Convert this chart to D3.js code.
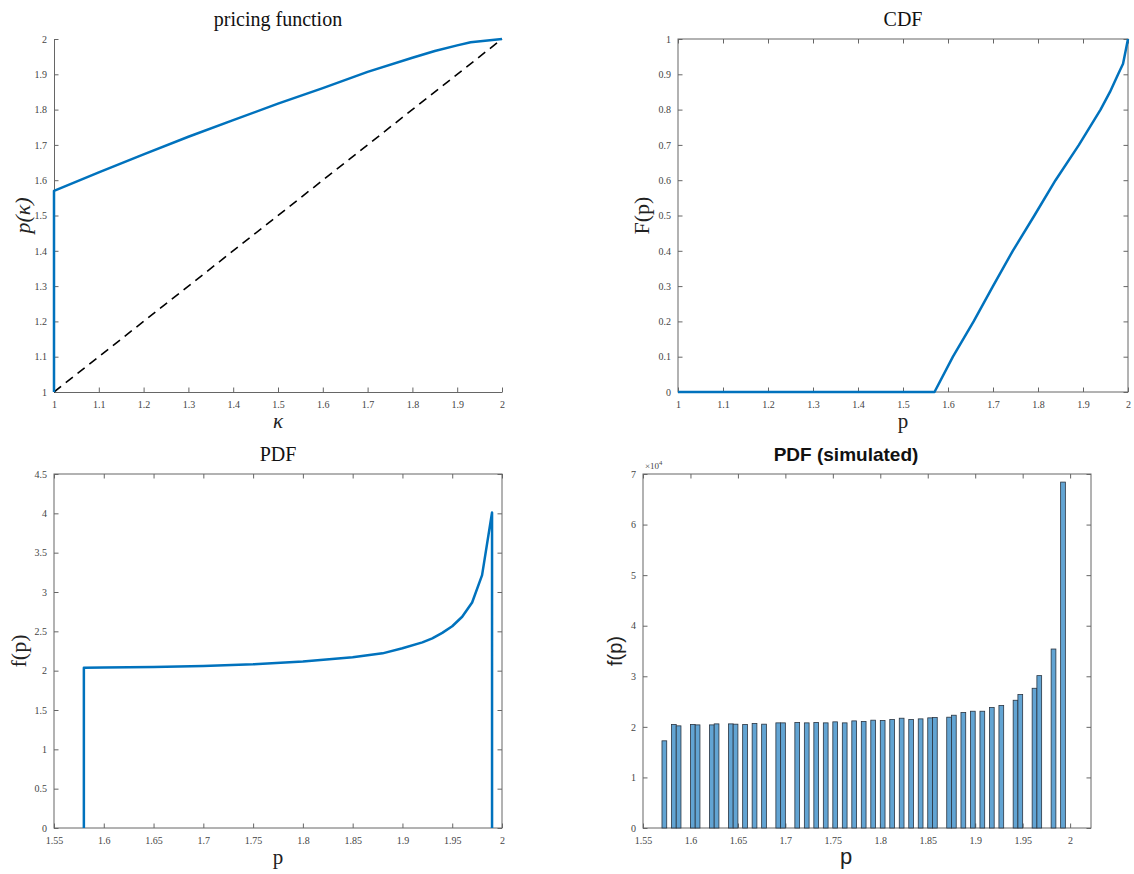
<!DOCTYPE html>
<html>
<head>
<meta charset="utf-8">
<script src="https://cdn.jsdelivr.net/npm/d3@7"></script>
<style>
  html, body { margin: 0; padding: 0; background: #fff; }
  svg { display: block; }
  .tick text { font-family: "Liberation Serif", "DejaVu Serif", serif; font-size: 10px; fill: #444; }
  .tick line { stroke: #666; }
  .domain { stroke: #666; }
</style>
</head>
<body>
<script>
// ---------- data ----------
// Panel 1: pricing function p(kappa)
const pricingKappa = [1, 1, 1.1, 1.2, 1.3, 1.4, 1.5, 1.6, 1.7, 1.8, 1.85, 1.9, 1.93, 2];
const pricingP     = [1, 1.57, 1.622, 1.673, 1.723, 1.770, 1.817, 1.861, 1.907, 1.947, 1.966, 1.982, 1.991, 2];
const diagonalK = [1, 2];
const diagonalP = [1, 2];

// Panel 2: CDF
const cdfP = [1, 1.57, 1.611, 1.657, 1.700, 1.744, 1.792, 1.839, 1.891, 1.939, 1.960, 1.978, 1.989, 2.0];
const cdfF = [0, 0, 0.1, 0.2, 0.3, 0.4, 0.5, 0.6, 0.7, 0.8, 0.85, 0.9, 0.93, 1.0];

// Panel 3: PDF
const pdfP = [1.58, 1.58, 1.6, 1.65, 1.7, 1.75, 1.8, 1.85, 1.88, 1.9, 1.92, 1.93, 1.94, 1.95, 1.96, 1.97, 1.98, 1.99, 1.99];
const pdfF = [0, 2.036, 2.04, 2.046, 2.06, 2.08, 2.115, 2.17, 2.22, 2.285, 2.36, 2.41, 2.48, 2.565, 2.685, 2.867, 3.215, 4.01, 0];

// Panel 4: simulated histogram (bin left edges, counts)
const histBinWidth = 0.005;
const histBinStart = [1.570, 1.580, 1.585, 1.600, 1.605, 1.620, 1.625, 1.640, 1.645, 1.655,
                      1.665, 1.675, 1.690, 1.695, 1.710, 1.720, 1.730, 1.740, 1.750, 1.760,
                      1.770, 1.780, 1.790, 1.800, 1.810, 1.820, 1.830, 1.840, 1.850, 1.855,
                      1.870, 1.875, 1.885, 1.895, 1.905, 1.915, 1.925, 1.940, 1.945, 1.960,
                      1.965, 1.980, 1.990, 1.995];
const histCounts = [17240, 20460, 20200, 20460, 20390, 20390, 20590, 20590, 20530, 20460,
                    20660, 20530, 20790, 20790, 20860, 20790, 20860, 20790, 20990, 20790,
                    21180, 21050, 21320, 21250, 21450, 21710, 21450, 21580, 21780, 21840,
                    21910, 22300, 22830, 23090, 23090, 23820, 24210, 25260, 26380, 27630,
                    30130, 35390, 68400, 0];

// tick values
const p1XTicks = d3.range(0, 11).map(i => 1 + i / 10);
const p1YTicks = d3.range(0, 11).map(i => 1 + i / 10);
const p2XTicks = d3.range(0, 11).map(i => 1 + i / 10);
const p2YTicks = d3.range(0, 11).map(i => i / 10);
const p3XTicks = d3.range(0, 10).map(i => 1.55 + i * 0.05);
const p3YTicks = d3.range(0, 10).map(i => i * 0.5);
const p4XTicks = d3.range(0, 10).map(i => 1.55 + i * 0.05);
const p4YTicks = d3.range(0, 8).map(i => i * 1e4);

// ---------- drawing ----------
const W = 1134, H = 874;
const svg = d3.select("body").append("svg").attr("width", W).attr("height", H);
const BLUE = "#0072BD";
const fmt = v => String(+v.toFixed(2));
const TL = 4.5;

function panel(cfg) {
  const g = svg.append("g");
  const x = d3.scaleLinear().domain(cfg.xDomain).range([cfg.left, cfg.right]);
  const y = d3.scaleLinear().domain(cfg.yDomain).range([cfg.bottom, cfg.top]);

  if (cfg.box) {
    g.append("rect").attr("x", cfg.left).attr("y", cfg.top)
      .attr("width", cfg.right - cfg.left).attr("height", cfg.bottom - cfg.top)
      .attr("fill", "none").attr("stroke", "#666").attr("stroke-width", 1);
    g.append("g").attr("transform", `translate(0,${cfg.top})`)
      .call(d3.axisTop(x).tickValues(cfg.xTicks).tickSizeInner(-TL).tickSizeOuter(0).tickFormat(""))
      .call(a => a.select(".domain").remove());
    g.append("g").attr("transform", `translate(${cfg.right},0)`)
      .call(d3.axisRight(y).tickValues(cfg.yTicks).tickSizeInner(-TL).tickSizeOuter(0).tickFormat(""))
      .call(a => a.select(".domain").remove());
  }
  const xa = g.append("g").attr("transform", `translate(0,${cfg.bottom})`)
    .call(d3.axisBottom(x).tickValues(cfg.xTicks).tickSizeInner(-TL).tickSizeOuter(0)
      .tickPadding(7).tickFormat(cfg.xFmt || fmt));
  const ya = g.append("g").attr("transform", `translate(${cfg.left},0)`)
    .call(d3.axisLeft(y).tickValues(cfg.yTicks).tickSizeInner(-TL).tickSizeOuter(0)
      .tickPadding(7).tickFormat(cfg.yFmt || fmt));
  xa.selectAll(".tick text").attr("dy", "0.9em");
  if (cfg.box) { xa.select(".domain").remove(); ya.select(".domain").remove(); }

  const cx = cfg.labelX != null ? cfg.labelX : (cfg.left + cfg.right) / 2;
  // title
  g.append("text").attr("x", cx).attr("y", cfg.top - 13)
    .attr("text-anchor", "middle")
    .attr("font-family", cfg.sans ? "Liberation Sans, Arial, sans-serif" : "Liberation Serif, DejaVu Serif, serif")
    .attr("font-weight", cfg.sans ? "bold" : "normal")
    .attr("font-size", cfg.sans ? 19 : 20).attr("fill", "#111").text(cfg.title);
  // x label
  g.append("text").attr("x", cx).attr("y", cfg.bottom + 36)
    .attr("text-anchor", "middle")
    .attr("font-family", cfg.sans ? "Liberation Sans, Arial, sans-serif" : "Liberation Serif, DejaVu Serif, serif")
    .attr("font-style", cfg.xItalic ? "italic" : "normal")
    .attr("font-size", cfg.sans ? 22 : 21).attr("fill", "#222").text(cfg.xLabel);
  // y label
  g.append("text")
    .attr("transform", `translate(${cfg.yLabelX},${(cfg.top + cfg.bottom) / 2}) rotate(-90)`)
    .attr("text-anchor", "middle")
    .attr("font-family", cfg.sans ? "Liberation Sans, Arial, sans-serif" : "Liberation Serif, DejaVu Serif, serif")
    .attr("font-style", cfg.yItalic ? "italic" : "normal")
    .attr("font-size", cfg.sans ? 20 : 22).attr("fill", "#222").text(cfg.yLabel);
  return { g, x, y };
}

// Panel 1
{
  const { g, x, y } = panel({
    left: 54, right: 502, top: 39, bottom: 392,
    xDomain: [1, 2], yDomain: [1, 2], xTicks: p1XTicks, yTicks: p1YTicks,
    box: false, title: "pricing function", xLabel: "κ", yLabel: "p(κ)",
    xItalic: true, yItalic: true, yLabelX: 30
  });
  const line = d3.line().x(d => x(d[0])).y(d => y(d[1]));
  g.append("path").datum(d3.zip(diagonalK, diagonalP)).attr("d", line)
    .attr("fill", "none").attr("stroke", "#000").attr("stroke-width", 1.6)
    .attr("stroke-dasharray", "9,6");
  g.append("path").datum(d3.zip(pricingKappa, pricingP)).attr("d", line)
    .attr("fill", "none").attr("stroke", BLUE).attr("stroke-width", 2.5)
    .attr("stroke-linejoin", "round");
}

// Panel 2
{
  const { g, x, y } = panel({
    left: 678, right: 1128, top: 39, bottom: 392,
    xDomain: [1, 2], yDomain: [0, 1], xTicks: p2XTicks, yTicks: p2YTicks,
    box: true, title: "CDF", xLabel: "p", yLabel: "F(p)", yLabelX: 649
  });
  const line = d3.line().x(d => x(d[0])).y(d => y(d[1]));
  g.append("path").datum(d3.zip(cdfP, cdfF)).attr("d", line)
    .attr("fill", "none").attr("stroke", BLUE).attr("stroke-width", 2.5)
    .attr("stroke-linejoin", "round");
}

// Panel 3
{
  const { g, x, y } = panel({
    left: 54, right: 502, top: 474, bottom: 828,
    xDomain: [1.55, 2], yDomain: [0, 4.5], xTicks: p3XTicks, yTicks: p3YTicks,
    box: true, title: "PDF", xLabel: "p", yLabel: "f(p)", yLabelX: 26
  });
  const line = d3.line().x(d => x(d[0])).y(d => y(d[1]));
  g.append("path").datum(d3.zip(pdfP, pdfF)).attr("d", line)
    .attr("fill", "none").attr("stroke", BLUE).attr("stroke-width", 2.5)
    .attr("stroke-linejoin", "round");
}

// Panel 4
{
  const { g, x, y } = panel({
    left: 643, right: 1091, top: 474, bottom: 828,
    xDomain: [1.55, 2.022], yDomain: [0, 7e4], xTicks: p4XTicks, yTicks: p4YTicks,
    box: true, title: "PDF (simulated)", xLabel: "p", yLabel: "f(p)", sans: true,
    labelX: 846, yLabelX: 622, yFmt: v => String(Math.round(v / 1e4))
  });
  g.selectAll("rect.bar").data(d3.zip(histBinStart, histCounts)).join("rect")
    .attr("class", "bar")
    .attr("x", d => x(d[0]))
    .attr("width", d => x(d[0] + histBinWidth) - x(d[0]))
    .attr("y", d => y(d[1]))
    .attr("height", d => y(0) - y(d[1]))
    .attr("fill", "#62A4D3").attr("stroke", "#2a3440").attr("stroke-width", 0.8);
  // exponent label
  const ex = g.append("text").attr("x", 645).attr("y", 469)
    .attr("font-family", "Liberation Serif, DejaVu Serif, serif").attr("font-size", 9).attr("fill", "#444");
  ex.append("tspan").text("×10");
  ex.append("tspan").attr("dy", -4).attr("font-size", 6.5).text("4");
}
</script>
</body>
</html>
